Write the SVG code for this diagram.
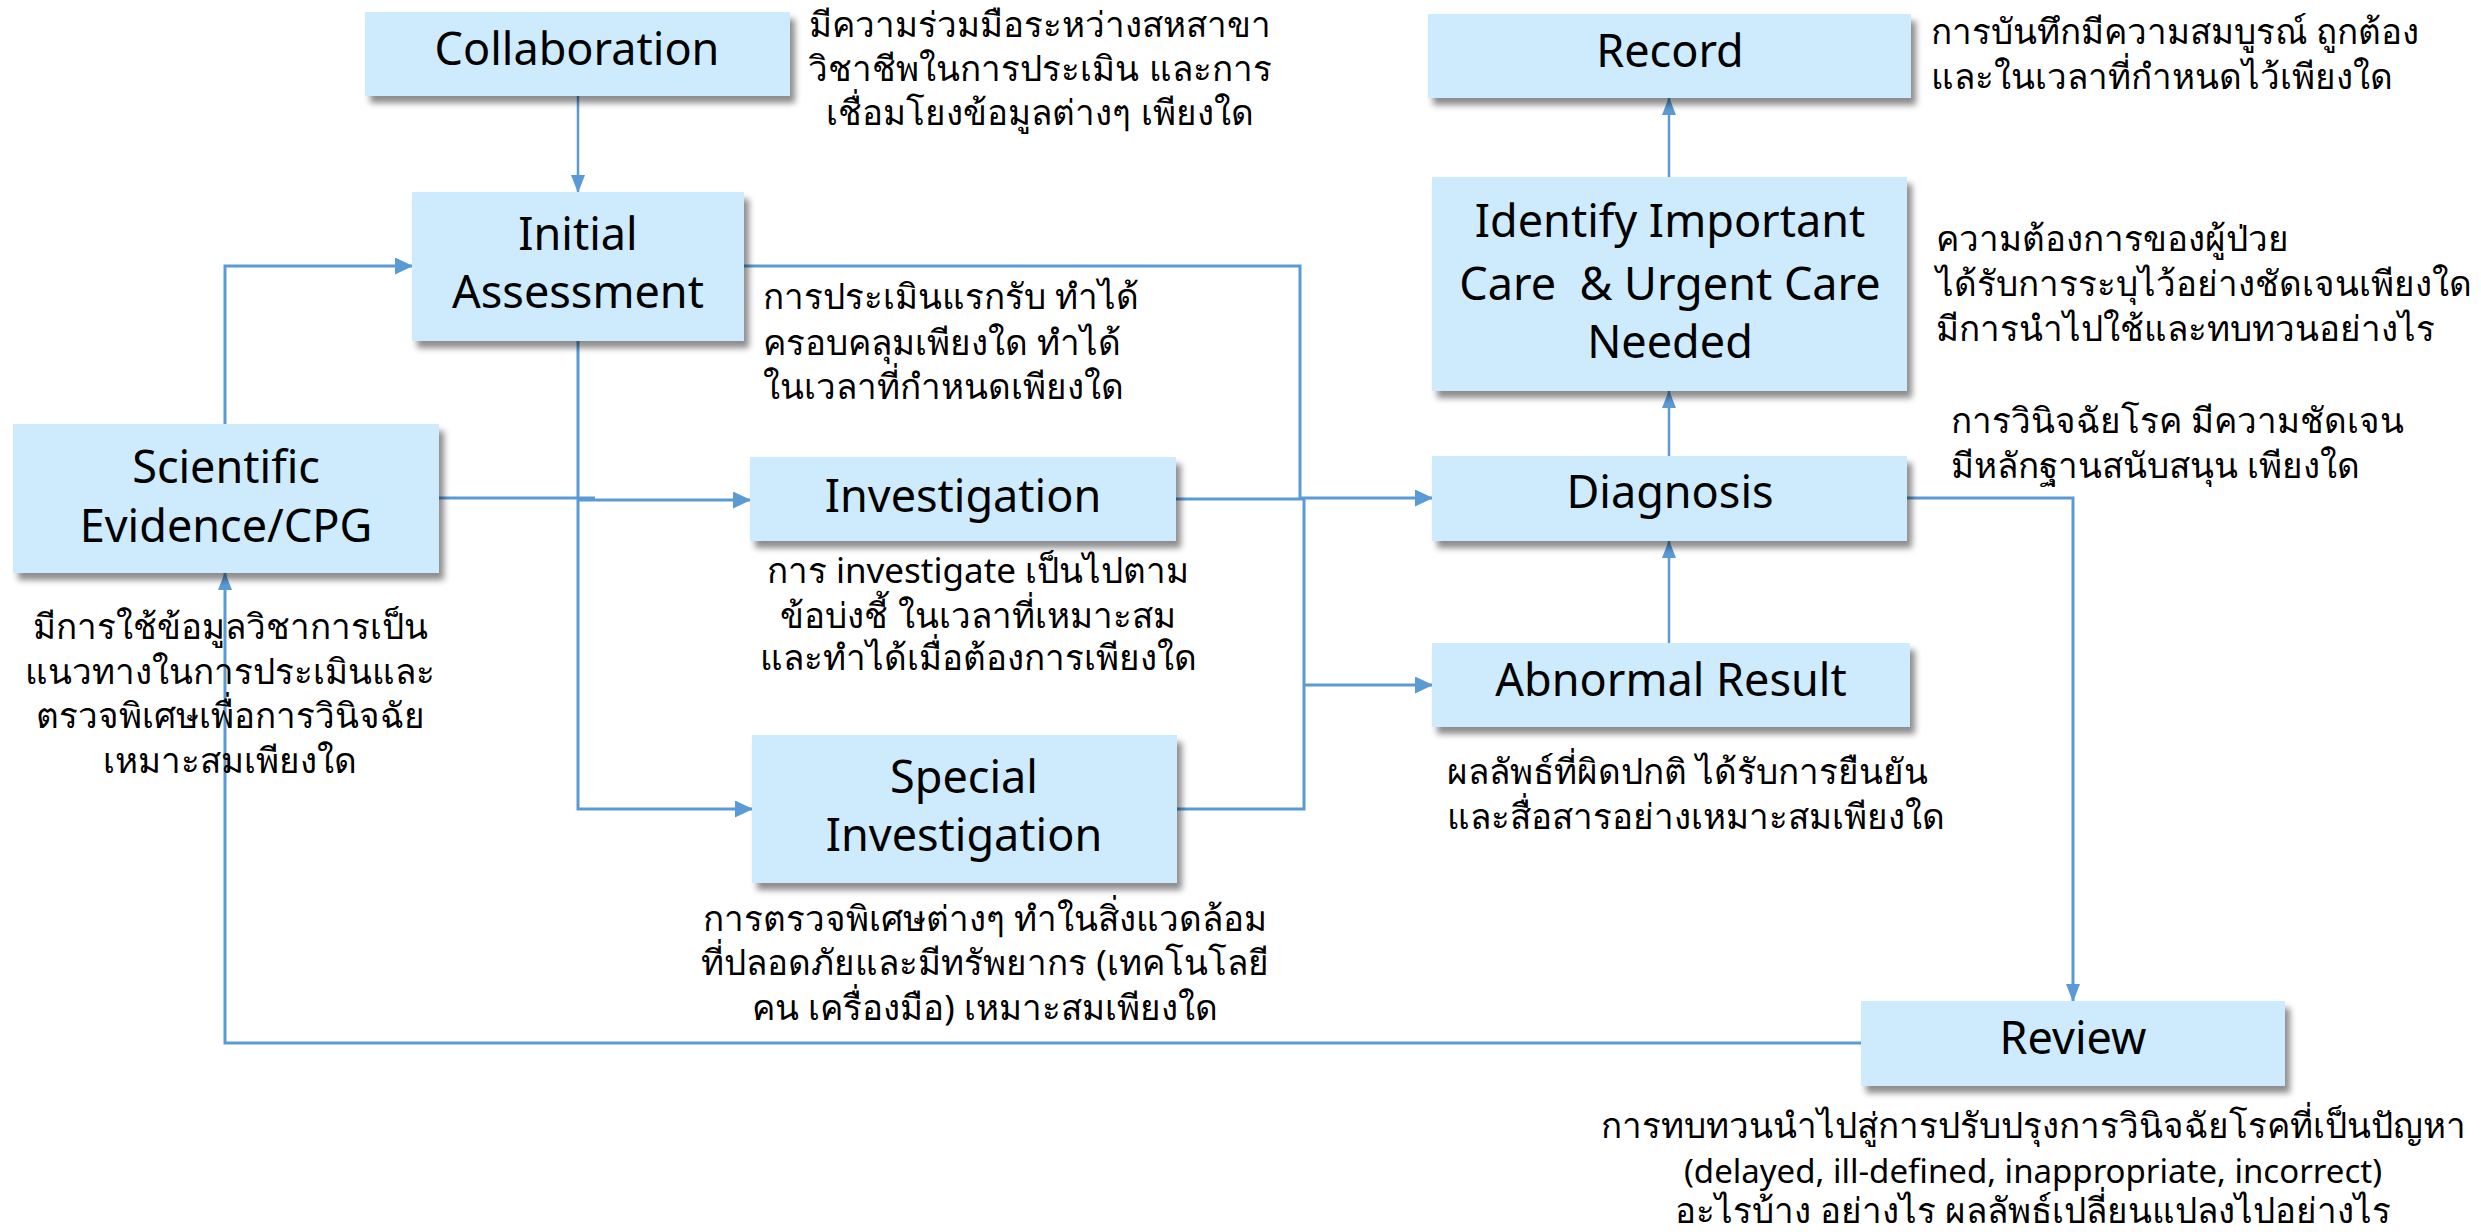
<svg xmlns="http://www.w3.org/2000/svg" width="2481" height="1232" viewBox="0 0 2481 1232">
  <defs>
    <filter id="shadow" x="-10%" y="-10%" width="125%" height="135%">
      <feDropShadow dx="5" dy="7" stdDeviation="3" flood-color="#000" flood-opacity="0.45"/>
    </filter>
    <marker id="arrow" markerUnits="userSpaceOnUse" markerWidth="18" markerHeight="17" refX="17" refY="8.5" orient="auto">
      <path d="M0,0 L18,8.5 L0,17 z" fill="#5b9bd5"/>
    </marker>
    <marker id="arrowSm" markerUnits="userSpaceOnUse" markerWidth="18" markerHeight="14" refX="17" refY="7" orient="auto">
      <path d="M0,0 L18,7 L0,14 z" fill="#5b9bd5"/>
    </marker>
  </defs>
  <style>
    .box { fill: #cdebfc; filter: url(#shadow); }
    .title { font-family: "Noto Sans", "Open Sans", sans-serif; font-size: 45px; fill: #000; text-anchor: middle; }
    .note { font-family: "Noto Sans", "DejaVu Sans", sans-serif; font-size: 35px; fill: #000; }
    .latin { font-size: 33px; }
    .mid { text-anchor: middle; }
    .link { fill: none; stroke: #5b9bd5; stroke-width: 3; }
    .thin { stroke-width: 2.5; }
  </style>
  <rect width="2481" height="1232" fill="#fff"/>

  <!-- connectors -->
  <g id="connectors">
    <path class="link thin" d="M578,96 V192" marker-end="url(#arrowSm)"/>
    <path class="link" d="M225,424 V266 H412" marker-end="url(#arrow)"/>
    <path class="link" d="M578,341 V809 H752" marker-end="url(#arrow)"/>
    <path class="link" d="M439,498 H595"/>
    <path class="link" d="M578,500 H750" marker-end="url(#arrow)"/>
    <path class="link" d="M744,266 H1300 V500"/>
    <path class="link" d="M1176,499 H1304 V809 H1177"/>
    <path class="link" d="M1300,498 H1432" marker-end="url(#arrow)"/>
    <path class="link" d="M1304,685 H1432" marker-end="url(#arrow)"/>
    <path class="link thin" d="M1669,643 V541" marker-end="url(#arrowSm)"/>
    <path class="link thin" d="M1669,456 V391" marker-end="url(#arrowSm)"/>
    <path class="link thin" d="M1669,177 V98" marker-end="url(#arrowSm)"/>
    <path class="link" d="M1907,498 H2073 V1001" marker-end="url(#arrowSm)"/>
    <path class="link" d="M1861,1043 H225 V573" marker-end="url(#arrowSm)"/>
  </g>

  <!-- nodes -->
  <g id="collaboration">
    <rect class="box" x="365" y="12" width="425" height="84"/>
    <text class="title" x="577" y="65">Collaboration</text>
  </g>
  <g id="initial-assessment">
    <rect class="box" x="412" y="192" width="332" height="149"/>
    <text class="title" x="578" y="250">Initial</text>
    <text class="title" x="578" y="308">Assessment</text>
  </g>
  <g id="scientific-evidence">
    <rect class="box" x="13" y="424" width="426" height="149"/>
    <text class="title" x="226" y="483">Scientific</text>
    <text class="title" x="226" y="542">Evidence/CPG</text>
  </g>
  <g id="investigation">
    <rect class="box" x="750" y="457" width="426" height="84"/>
    <text class="title" x="963" y="512">Investigation</text>
  </g>
  <g id="special-investigation">
    <rect class="box" x="752" y="735" width="425" height="148"/>
    <text class="title" x="964" y="793">Special</text>
    <text class="title" x="964" y="851">Investigation</text>
  </g>
  <g id="record">
    <rect class="box" x="1428" y="14" width="483" height="84"/>
    <text class="title" x="1670" y="67">Record</text>
  </g>
  <g id="identify-care">
    <rect class="box" x="1432" y="177" width="475" height="214"/>
    <text class="title" x="1670" y="237">Identify Important</text>
    <text class="title" x="1670" y="300" xml:space="preserve">Care  &amp; Urgent Care</text>
    <text class="title" x="1670" y="358">Needed</text>
  </g>
  <g id="diagnosis">
    <rect class="box" x="1432" y="456" width="475" height="85"/>
    <text class="title" x="1670" y="508">Diagnosis</text>
  </g>
  <g id="abnormal-result">
    <rect class="box" x="1432" y="643" width="478" height="84"/>
    <text class="title" x="1671" y="696">Abnormal Result</text>
  </g>
  <g id="review">
    <rect class="box" x="1861" y="1001" width="424" height="85"/>
    <text class="title" x="2073" y="1054">Review</text>
  </g>

  <!-- notes -->
  <g id="notes">
    <text class="note mid" x="1040" y="37">มีความร่วมมือระหว่างสหสาขา</text>
    <text class="note mid" x="1040" y="81">วิชาชีพในการประเมิน และการ</text>
    <text class="note mid" x="1040" y="125">เชื่อมโยงข้อมูลต่างๆ เพียงใด</text>

    <text class="note" x="763" y="309">การประเมินแรกรับ ทำได้</text>
    <text class="note" x="763" y="355">ครอบคลุมเพียงใด ทำได้</text>
    <text class="note" x="763" y="399">ในเวลาที่กำหนดเพียงใด</text>

    <text class="note mid" x="230" y="639">มีการใช้ข้อมูลวิชาการเป็น</text>
    <text class="note mid" x="230" y="684">แนวทางในการประเมินและ</text>
    <text class="note mid" x="230" y="728">ตรวจพิเศษเพื่อการวินิจฉัย</text>
    <text class="note mid" x="230" y="773">เหมาะสมเพียงใด</text>

    <text class="note mid" x="978" y="583">การ investigate เป็นไปตาม</text>
    <text class="note mid" x="978" y="628">ข้อบ่งชี้ ในเวลาที่เหมาะสม</text>
    <text class="note mid" x="978" y="670">และทำได้เมื่อต้องการเพียงใด</text>

    <text class="note mid" x="985" y="931">การตรวจพิเศษต่างๆ ทำในสิ่งแวดล้อม</text>
    <text class="note mid" x="985" y="975">ที่ปลอดภัยและมีทรัพยากร (เทคโนโลยี</text>
    <text class="note mid" x="985" y="1020">คน เครื่องมือ) เหมาะสมเพียงใด</text>

    <text class="note" x="1931" y="44">การบันทึกมีความสมบูรณ์ ถูกต้อง</text>
    <text class="note" x="1931" y="89">และในเวลาที่กำหนดไว้เพียงใด</text>

    <text class="note" x="1936" y="251">ความต้องการของผู้ป่วย</text>
    <text class="note" x="1936" y="296">ได้รับการระบุไว้อย่างชัดเจนเพียงใด</text>
    <text class="note" x="1936" y="341">มีการนำไปใช้และทบทวนอย่างไร</text>

    <text class="note" x="1951" y="433">การวินิจฉัยโรค มีความชัดเจน</text>
    <text class="note" x="1951" y="478">มีหลักฐานสนับสนุน เพียงใด</text>

    <text class="note" x="1447" y="784">ผลลัพธ์ที่ผิดปกติ ได้รับการยืนยัน</text>
    <text class="note" x="1447" y="829">และสื่อสารอย่างเหมาะสมเพียงใด</text>

    <text class="note mid" x="2033" y="1138">การทบทวนนำไปสู่การปรับปรุงการวินิจฉัยโรคที่เป็นปัญหา</text>
    <text class="note mid latin" x="2033" y="1183">(delayed, ill-defined, inappropriate, incorrect)</text>
    <text class="note mid" x="2033" y="1223">อะไรบ้าง อย่างไร ผลลัพธ์เปลี่ยนแปลงไปอย่างไร</text>
  </g>
</svg>
